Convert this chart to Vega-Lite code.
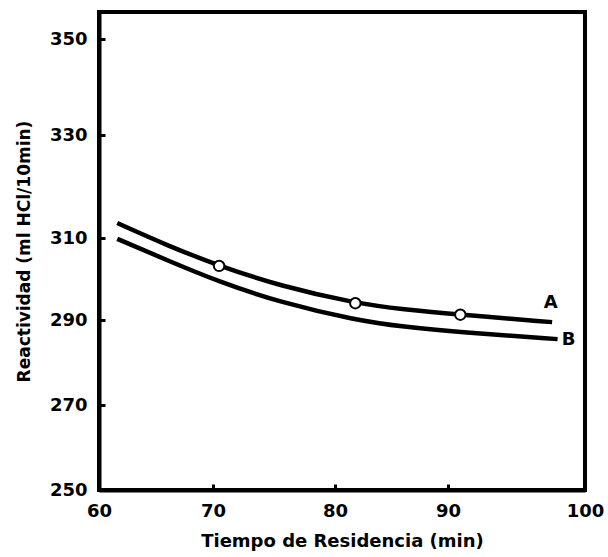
{
  "$schema": "https://vega.github.io/schema/vega-lite/v6.json",
  "width": 486,
  "height": 478,
  "autosize": {"type": "none"},
  "padding": {"left": 99, "top": 12, "right": 23, "bottom": 67},
  "background": "white",
  "config": {
    "view": {"stroke": "black", "strokeWidth": 4},
    "font": "DejaVu Sans",
    "axis": {
      "domainColor": "black",
      "domainWidth": 4,
      "tickColor": "black",
      "tickWidth": 3,
      "grid": false,
      "labelFont": "DejaVu Sans",
      "labelFontWeight": "bold",
      "labelFontSize": 18,
      "labelColor": "black",
      "titleFont": "DejaVu Sans",
      "titleFontWeight": "bold",
      "titleColor": "black"
    }
  },
  "datasets": {
    "curves": [
      {"serie": "A", "tiempo": 61.6, "reactividad": 312.9},
      {"serie": "A", "tiempo": 65.96, "reactividad": 308.2},
      {"serie": "A", "tiempo": 70.5, "reactividad": 303.2},
      {"serie": "A", "tiempo": 75.5, "reactividad": 298.3},
      {"serie": "A", "tiempo": 81.8, "reactividad": 294.1},
      {"serie": "A", "tiempo": 86.0, "reactividad": 292.6},
      {"serie": "A", "tiempo": 90.9, "reactividad": 291.3},
      {"serie": "A", "tiempo": 97.6, "reactividad": 289.5},
      {"serie": "B", "tiempo": 61.6, "reactividad": 309.8},
      {"serie": "B", "tiempo": 65.96, "reactividad": 304.6},
      {"serie": "B", "tiempo": 70.5, "reactividad": 299.3},
      {"serie": "B", "tiempo": 75.5, "reactividad": 294.3},
      {"serie": "B", "tiempo": 81.8, "reactividad": 290.0},
      {"serie": "B", "tiempo": 86.0, "reactividad": 288.4},
      {"serie": "B", "tiempo": 90.9, "reactividad": 287.1},
      {"serie": "B", "tiempo": 98.0, "reactividad": 285.5}
    ],
    "medidos": [
      {"tiempo": 70.5, "reactividad": 303.2},
      {"tiempo": 81.8, "reactividad": 294.1},
      {"tiempo": 90.9, "reactividad": 291.3}
    ],
    "etiquetas": [
      {"serie": "A", "tiempo": 97.5, "reactividad": 294.1},
      {"serie": "B", "tiempo": 98.8, "reactividad": 285.3}
    ]
  },
  "encoding": {
    "x": {
      "field": "tiempo",
      "type": "quantitative",
      "scale": {"domain": [60, 70, 80, 90, 100], "range": [0, 114, 236, 349, 486], "nice": false, "zero": false},
      "axis": {
        "title": "Tiempo de Residencia (min)",
        "titleFontSize": 18,
        "titlePadding": 12,
        "values": [60, 70, 80, 90, 100],
        "tickSize": -6,
        "labelPadding": 18,
        "labelFlush": false
      }
    },
    "y": {
      "field": "reactividad",
      "type": "quantitative",
      "scale": {"domain": [250, 270, 290, 310, 330, 350, 355.6], "range": [478, 393, 308, 226, 123, 27, 0], "nice": false, "zero": false},
      "axis": {
        "title": "Reactividad (ml HCl/10min)",
        "titleFontSize": 17,
        "titlePadding": 16,
        "values": [250, 270, 290, 310, 330, 350],
        "tickSize": -6,
        "labelPadding": 18,
        "labelFlush": false
      }
    }
  },
  "layer": [
    {
      "data": {"name": "curves"},
      "mark": {"type": "line", "interpolate": "basis", "color": "black", "strokeWidth": 4.5},
      "encoding": {"detail": {"field": "serie"}}
    },
    {
      "data": {"name": "medidos"},
      "mark": {"type": "point", "shape": "circle", "filled": true, "fill": "white", "stroke": "black", "strokeWidth": 2, "size": 110, "opacity": 1}
    },
    {
      "data": {"name": "etiquetas"},
      "mark": {"type": "text", "font": "DejaVu Sans", "fontWeight": "bold", "fontSize": 18, "color": "black"},
      "encoding": {"text": {"field": "serie"}}
    }
  ]
}
